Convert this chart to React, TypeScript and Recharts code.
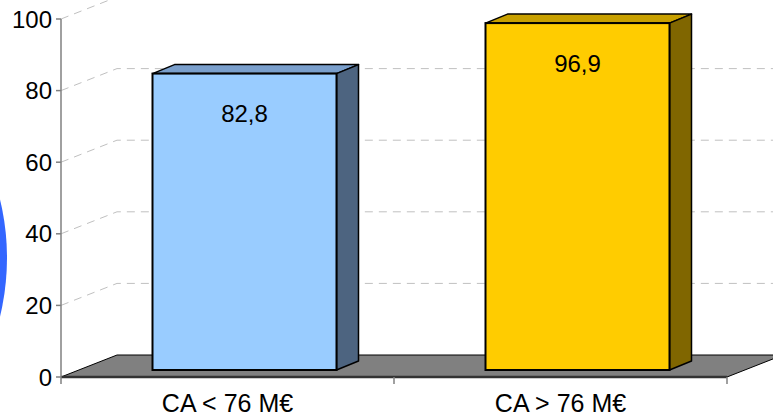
// Histogramme 3D — CA < 76 M€ / CA > 76 M€
import { BarChart, Bar, XAxis, YAxis, CartesianGrid } from 'recharts'

const categories = ['CA < 76 M€', 'CA > 76 M€']
const values = [82.8, 96.9]
const yTicks = [0, 20, 40, 60, 80, 100]

const data = categories.map((name, i) => ({ name, value: values[i] }))

// couleurs façon Excel : face, dessus, côté
const palette = [
  { front: '#99ccff', top: '#7a9fcc', side: '#4d6480' },
  { front: '#ffcc00', top: '#c8a000', side: '#806600' },
]

const FONT = '"Liberation Sans", Arial, sans-serif'
const WALL = { dx: 56, dy: -22 } // profondeur du mur du fond
const SHIFT = { dx: 16.5, dy: -7 } // position de la face avant des barres
const DEPTH = { dx: 22, dy: -9 } // épaisseur des barres
const HALF_BAND = 166.5

const fmt = (v: number) => v.toFixed(1).replace('.', ',')

function Bar3D(props: any) {
  const { x, y, width: w, height: h, index, value } = props
  const c = palette[index % palette.length]
  const fx = x + SHIFT.dx
  const fy = y + SHIFT.dy
  const v = Array.isArray(value) ? value[1] : value
  return (
    <g>
      <polygon
        points={`${fx},${fy} ${fx + DEPTH.dx},${fy + DEPTH.dy} ${fx + w + DEPTH.dx},${fy + DEPTH.dy} ${fx + w},${fy}`}
        fill={c.top}
        stroke="#000"
        strokeWidth={1.5}
        strokeLinejoin="round"
      />
      <polygon
        points={`${fx + w},${fy} ${fx + w + DEPTH.dx},${fy + DEPTH.dy} ${fx + w + DEPTH.dx},${fy + h + DEPTH.dy} ${fx + w},${fy + h}`}
        fill={c.side}
        stroke="#000"
        strokeWidth={1.5}
        strokeLinejoin="round"
      />
      <rect x={fx} y={fy} width={w} height={h} fill={c.front} stroke="#000" strokeWidth={2} />
      <text x={fx + w / 2} y={fy + 40} textAnchor="middle" dominantBaseline="central" fontSize={24} fontFamily={FONT} fill="#000">
        {fmt(v)}
      </text>
    </g>
  )
}

function GridLine(props: any) {
  const { x1, y1, x2, index } = props
  if (index === 0) {
    // sol gris
    return (
      <polygon
        key={`floor-${index}`}
        points={`${x1},${y1} ${x1 + WALL.dx},${y1 + WALL.dy} ${x2 + WALL.dx},${y1 + WALL.dy} ${x2},${y1}`}
        fill="#808080"
        stroke="#000"
        strokeWidth={1}
      />
    )
  }
  return (
    <polyline
      key={`grid-${index}`}
      points={`${x1},${y1} ${x1 + WALL.dx},${y1 + WALL.dy} ${x2 + WALL.dx},${y1 + WALL.dy}`}
      fill="none"
      stroke="#c0c0c0"
      strokeWidth={1}
      strokeDasharray="8 6"
    />
  )
}

function CategoryTick(props: any) {
  const { x, y, payload, index } = props
  const last = index === categories.length - 1
  return (
    <g>
      <line x1={x - HALF_BAND} y1={y} x2={x - HALF_BAND} y2={y + 7} stroke="#808080" strokeWidth={1.5} />
      {last && <line x1={x + HALF_BAND} y1={y} x2={x + HALF_BAND} y2={y + 7} stroke="#808080" strokeWidth={1.5} />}
      <text x={x} y={y + 35} textAnchor="middle" fontSize={25} fontFamily={FONT} fill="#000">
        {payload.value}
      </text>
    </g>
  )
}

export default function App() {
  return (
    <div style={{ position: 'absolute', left: 0, top: 0, width: 773, height: 419, overflow: 'hidden', background: '#fff' }}>
      <div
        style={{
          position: 'absolute',
          left: -489,
          top: 10,
          width: 496,
          height: 496,
          borderRadius: '50%',
          background: '#3366ff',
        }}
      />
      <div style={{ position: 'absolute', left: 0, top: 0 }}>
        <BarChart width={773} height={419} data={data} margin={{ top: 19, right: 46, bottom: 0, left: 0 }} barSize={184}>
          <CartesianGrid vertical={false} horizontal={GridLine} horizontalValues={yTicks} />
          <XAxis
            dataKey="name"
            height={42}
            axisLine={{ stroke: '#333', strokeWidth: 2.5 }}
            tickLine={false}
            tickSize={0}
            tickMargin={0}
            tick={CategoryTick}
            interval={0}
          />
          <YAxis
            width={61}
            domain={[0, 100]}
            ticks={yTicks}
            interval={0}
            axisLine={{ stroke: '#808080', strokeWidth: 1.5 }}
            tickLine={{ stroke: '#808080', strokeWidth: 1.5 }}
            tickSize={5}
            tickMargin={4}
            tick={{ fill: '#000', fontSize: 24, fontFamily: FONT }}
          />
          <Bar dataKey="value" shape={Bar3D} isAnimationActive={false} />
        </BarChart>
      </div>
    </div>
  )
}
